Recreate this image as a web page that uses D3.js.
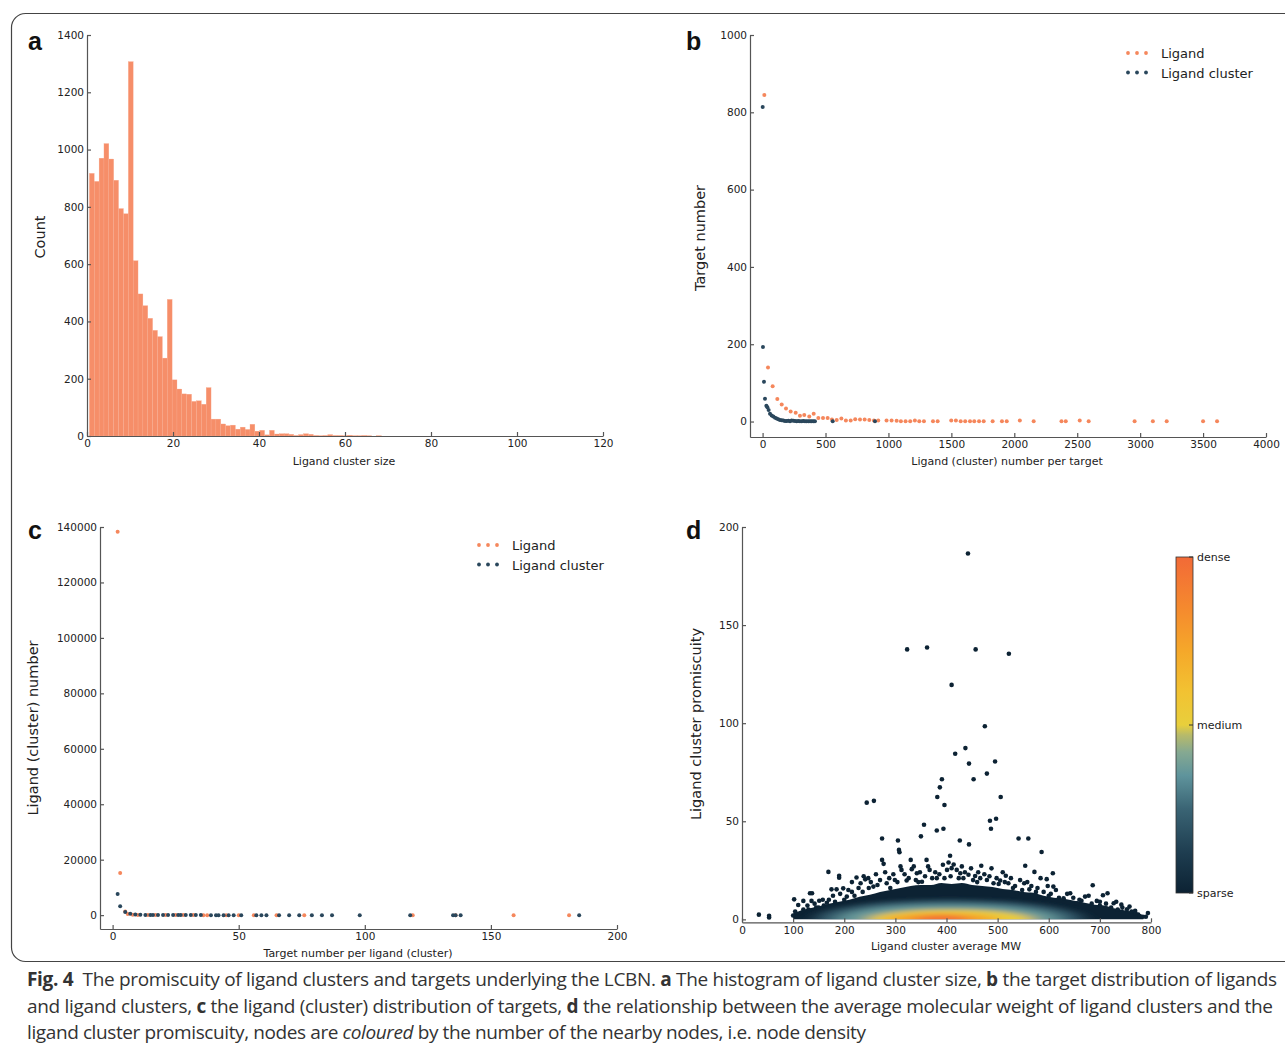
<!DOCTYPE html>
<html>
<head>
<meta charset="utf-8">
<script src="https://cdn.jsdelivr.net/npm/d3@7"></script>
<style>
body { margin: 0; background: #fff; }
svg text { font-family: "DejaVu Sans", sans-serif; fill: #222; }
.axis text { font-family: "DejaVu Sans", sans-serif; font-size: 10.5px; fill: #222; }
.axis path, .axis line { stroke: #555; stroke-width: 1.2; }
.ylab { font-size: 14.5px; }
.xlab { font-size: 11px; }
.leg { font-size: 13px; }
.letter { font-family: "Liberation Sans", Arial, sans-serif !important; font-weight: bold; font-size: 25px; fill: #111 !important; }
.cap { font-family: "Open Sans", "Noto Sans", sans-serif !important; font-size: 19px; fill: #333 !important; }
</style>
</head>
<body>
<svg id="fig" width="1285" height="1050"></svg>
<script>
// ---- panel a : histogram of ligand cluster size
var histCounts = [917, 889, 970, 1021, 967, 893, 794, 776, 1307, 612, 496, 455, 411, 369, 347, 272, 477, 196, 164, 147,
	146, 121, 123, 111, 169, 59, 59, 42, 36, 38, 24, 31, 23, 41, 17, 20, 4, 20, 7, 8,
	8, 6, 2, 5, 8, 6, 2, 1, 2, 5, 2, 2, 1, 3, 1, 1, 2, 1, 0, 1];
var histStart = 0.55, histWidth = 1.132;
var histXTicks = [0, 20, 40, 60, 80, 100, 120];
var histYTicks = [0, 200, 400, 600, 800, 1000, 1200, 1400];

// ---- panel b : targets vs ligand (cluster) number per target
var bLigand = [[14,845],[43,140],[80,91],[117,58],[152,44],[186,34],[223,26],[263,23],[297,15],[331,17],[371,13],[406,20],
	[443,9],[480,9],[517,9],[551,5],[589,4],[626,8],[662,3],[700,3],[736,6],[774,5],[811,5],[848,4],[885,3],[919,3],
	[985,3],[1025,3],[1065,2],[1099,1],[1136,1],[1173,1],[1210,3],[1245,1],[1282,1],[1354,1],[1391,1],[1499,3],[1536,3],
	[1574,1],[1610,1],[1648,1],[1682,1],[1720,1],[1757,1],[1828,1],[1902,1],[1940,1],[2044,3],[2154,1],[2375,1],[2409,1],
	[2520,3],[2591,1],[2956,1],[3101,1],[3211,1],[3500,1],[3611,1]];
var bCluster = [[1,814],[3,193],[11,103],[19,59],[30,41],[38,37],[48,30],[59,20],[72,15.5],[85,13],[99,9.5],[112,7.8],
	[125,6],[138,4.3],[152,3.4],[165,2.6],[178,1.7],[191,1.7],[205,2],[218,1],[231,2.5],[245,2],[258,1.5],[271,1],[284,1.5],
	[297,1],[311,1],[324,1.5],[337,1],[350,1],[364,1],[377,1],[390,1],[403,1],[416,1],[557,1],[893,1]];
var bXTicks = [0, 500, 1000, 1500, 2000, 2500, 3000, 3500, 4000];
var bYTicks = [0, 200, 400, 600, 800, 1000];

// ---- panel c : ligands vs target number per ligand (cluster)
var cLigand = [[2,138300],[3,15200],[5,1350],[6,400],[8,160],[10,90],[14,50],[17,30],[21,20],[25,14],[28,9],[32,6],
	[36,4],[37.5,3],[45,2],[50,2],[56,2],[65,1],[76,1],[119,1],[136,1],[159,1],[181,1]];
var cCluster = [[2,7600],[3,3250],[5,1100],[7,480],[9,200],[11,130],[13,90],[15,60],[16,45],[18,35],[20,25],[22,20],
	[24,15],[26,12],[27,10],[29,8],[31,7],[33,6],[35,5],[39,4],[41,4],[42,3],[44,3],[46,3],[48,2],[51,2],[57,2],[59,1],
	[61,1],[66,1],[70,1],[74,1],[79,1],[83,1],[87,1],[98,1],[118,1],[135,1],[136,1],[138,1],[185,1]];
var cXTicks = [0, 50, 100, 150, 200];
var cYTicks = [0, 20000, 40000, 60000, 80000, 100000, 120000, 140000];

var seriesNames = ["Ligand", "Ligand cluster"];
var seriesColors = ["#f5875c", "#2a475c"];

// ---- panel d : average MW vs promiscuity
var dOutliers = [[442,186.5],[323,137.6],[362,138.6],[457,137.6],[522,135.4],[410,119.5],[475,98.4],[437,87.3],[417,84.4],
	[495,80.5],[444,79.4],[479,74.3],[391,71.4],[453,71.4],[387,67.3],[382,62.4],[506,62.4],[396,58.3],[244,59.5],[258,60.4],
	[497,51.3],[485,50.3],[487,46.2],[356,48.2],[394,46.2],[381,45.3],[350,42.3],[274,41.2],[305,40.2],[426,40.2],[444,38.2],
	[541,41.2],[560,41.2],[586,34.3],[307,35.4],[308,34.2],[407,32.4],[274,30.3],[277,28.3],[330,30.3],[361,30.3],[554,27.3],
	[572,24.2],[468,27.3],[169,24.2],[190,22.2],[190,21.2],[608,23.5],[596,20.5],[516,22.2],[686,17.4],[715,13.3],[706,12.3],
	[742,7.5],[137,13.3],[33,2.4],[53,1.8],[53,1.0],[794,3.2],[784,1.3],[790,1.3]];
var dSpeckles = [[102,10.2],[110,7.3],[120,9.4],[133,13.3],[136,9.4],[151,9.5],[175,15.3],[185,15.3],[198,15.8],[205,11.6],
	[224,21.3],[232,18.4],[241,20.4],[247,21.0],[257,16.7],[265,17.5],[283,18.4],[299,20.1],[312,25.2],[322,19.8],[332,25.6],
	[342,23.5],[352,19.2],[367,25.2],[381,21.0],[393,27.8],[401,25.2],[410,26.1],[420,25.2],[427,23.5],[433,21.0],[443,22.7],
	[456,22.1],[479,20.1],[492,18.4],[505,19.8],[521,18.4],[538,13.3],[552,18.4],[562,15.3],[609,16.7],[629,10.7],[642,13.3],
	[655,8.2],[671,11.6],[694,9.4],[727,8.2],[753,5.1],[769,4.4],[100,2],[104,4],[108,1.5],[115,3],[125,2.5],[130,5],[140,3.5],
	[145,6],[160,7],[170,10],[215,14],[290,16],[345,19],[460,19],[530,16],[575,14],[600,12],[660,10],[700,7],[735,5],
	[770,3],[775,2.5],[778,1.5],
	[215,19],[228,16],[238,22],[252,19],[262,23],[270,20],[280,24],[288,21],[296,23],[304,19],[310,27],[318,23],[326,21],
	[336,27],[340,20],[348,24],[358,22],[364,27],[372,21],[378,24],[386,23],[396,21],[404,29],[408,22],[414,28],[424,21],
	[430,27],[436,24],[448,26],[452,20],[462,24],[466,21],[474,23],[484,22],[488,26],[498,21],[502,18],[510,24],[514,19],
	[526,21],[534,17],[544,20],[548,15],[558,19],[566,17],[578,16],[584,21],[590,14],[598,17],[604,13],[614,15],[620,11],
	[636,13],[648,11],[664,9.5],[678,12],[684,8],[700,9],[712,8],[722,6],[732,9],[744,6],[758,6.5],[762,4],[120,5],[128,7],
	[142,8],[150,6],[158,10],[166,8.5],[178,12],[182,9],[192,13],[200,10],[208,15],[220,12],[236,14],[248,16]];
var dCloudMW = [100, 115, 130, 150, 170, 190, 210, 230, 250, 270, 290, 310, 330, 350, 370, 390, 410, 430, 450, 470, 490, 510,
	530, 550, 570, 590, 610, 630, 650, 670, 690, 710, 730, 750, 770, 785];
var dCloudTop = [3, 4.5, 5.5, 6.5, 8, 9, 10, 11.5, 12.5, 14, 15, 16, 17, 17.5, 17.5, 18.5, 18, 18.5, 17.5, 17, 16.5, 15.5,
	15, 14, 13.5, 12, 11, 10.5, 9.5, 8.5, 7.5, 7, 5.5, 4.5, 3.5, 2];
// density bands (level 0..1), read as flat domes resting on y = 0
var dBandLevel = [0.22, 0.36, 0.52, 0.72, 0.95];
var dBandCenter = [405, 405, 408, 390, 390];
var dBandHalfWidth = [260, 215, 160, 110, 55];
var dBandHeight = [10, 7.5, 5, 3.3, 2.3];
var dXTicks = [0, 100, 200, 300, 400, 500, 600, 700, 800];
var dYTicks = [0, 50, 100, 150, 200];
var densityStops = [0, 0.12, 0.25, 0.35, 0.42, 0.47, 0.5, 0.6, 0.72, 0.85, 1];
var densityColors = ["#0c2233", "#1e3d50", "#3a6474", "#5f949c", "#86a991", "#b7ba6a", "#e8cf3c", "#f2c232", "#f5a82a", "#f5892e", "#f26a37"];
var densityTicks = [[1, "dense"], [0.5, "medium"], [0, "sparse"]];

var svg = d3.select("#fig");
var defs = svg.append("defs");
var density = d3.scaleLinear().domain(densityStops).range(densityColors);

// frame around the figure
svg.append("rect").attr("x", 11.5).attr("y", 13.5).attr("width", 1300).attr("height", 948).attr("rx", 14)
	.attr("fill", "none").attr("stroke", "#444").attr("stroke-width", 1.2);

function axes(x, y, xt, yt) {
	svg.append("g").attr("class", "axis").attr("transform", "translate(0," + y.range()[0] + ")")
		.call(d3.axisBottom(x).tickValues(xt).tickSize(-4).tickSizeOuter(0).tickPadding(4).tickFormat(d3.format("d")));
	svg.append("g").attr("class", "axis").attr("transform", "translate(" + x.range()[0] + ",0)")
		.call(d3.axisLeft(y).tickValues(yt).tickSize(-4).tickSizeOuter(0).tickPadding(3).tickFormat(d3.format("d")));
}
function ylabel(txt, x, y) {
	svg.append("text").attr("class", "ylab").attr("text-anchor", "middle")
		.attr("transform", "translate(" + x + "," + y + ") rotate(-90)").text(txt);
}
function xlabel(txt, x, y) {
	svg.append("text").attr("class", "xlab").attr("text-anchor", "middle").attr("x", x).attr("y", y).text(txt);
}
function legend(x, y) {
	seriesNames.forEach(function (name, i) {
		[0, 9, 18].forEach(function (dx) {
			svg.append("circle").attr("cx", x + dx).attr("cy", y + i * 19.5).attr("r", 1.9).attr("fill", seriesColors[i]);
		});
		svg.append("text").attr("class", "leg").attr("x", x + 33).attr("y", y + i * 19.5 + 5).text(name);
	});
}

// ---------------- a
var xa = d3.scaleLinear().domain([0, 120]).range([87, 603]);
var ya = d3.scaleLinear().domain([0, 1400]).range([436, 35]);
svg.append("g").selectAll("rect").data(histCounts).enter().append("rect")
	.attr("x", function (d, i) { return xa(histStart + i * histWidth); })
	.attr("width", xa(histWidth) - xa(0))
	.attr("y", function (d) { return ya(d); })
	.attr("height", function (d) { return ya(0) - ya(d); })
	.attr("fill", "#f68e69").attr("stroke", "#f9ad91").attr("stroke-width", 0.3);
axes(xa, ya, histXTicks, histYTicks);
ylabel("Count", 45, 237);
xlabel("Ligand cluster size", 344, 465);
svg.append("text").attr("class", "letter").attr("x", 28).attr("y", 50).text("a");

// ---------------- b
var xb = d3.scaleLinear().domain([-100, 4000]).range([750, 1266]);
var yb = d3.scaleLinear().domain([-40, 1000]).range([437, 35]);
[bLigand, bCluster].forEach(function (s, i) {
	svg.append("g").selectAll("circle").data(s).enter().append("circle")
		.attr("cx", function (d) { return xb(d[0]); }).attr("cy", function (d) { return yb(d[1]); })
		.attr("r", 2).attr("fill", seriesColors[i]);
});
axes(xb, yb, bXTicks, bYTicks);
ylabel("Target number", 705, 238);
xlabel("Ligand (cluster) number per target", 1007, 465);
legend(1128, 53);
svg.append("text").attr("class", "letter").attr("x", 686).attr("y", 50).text("b");

// ---------------- c
var xc = d3.scaleLinear().domain([-5, 200]).range([100, 617]);
var yc = d3.scaleLinear().domain([-5000, 140000]).range([929, 527]);
[cLigand, cCluster].forEach(function (s, i) {
	svg.append("g").selectAll("circle").data(s).enter().append("circle")
		.attr("cx", function (d) { return xc(d[0]); }).attr("cy", function (d) { return yc(d[1]); })
		.attr("r", 2).attr("fill", seriesColors[i]);
});
axes(xc, yc, cXTicks, cYTicks);
ylabel("Ligand (cluster) number", 38, 728);
xlabel("Target number per ligand (cluster)", 358, 957);
legend(479, 545);
svg.append("text").attr("class", "letter").attr("x", 28).attr("y", 539).text("c");

// ---------------- d
var xd = d3.scaleLinear().domain([0, 800]).range([742, 1151]);
var yd = d3.scaleLinear().domain([-1.5, 200]).range([922.3, 527]);
var dark = densityColors[0];

var cloud = d3.area().curve(d3.curveMonotoneX)
	.x(function (d, i) { return xd(dCloudMW[i]); })
	.y0(yd(0)).y1(function (d) { return yd(d); });
defs.append("clipPath").attr("id", "cloudClip").append("path").attr("d", cloud(dCloudTop));
var blur = defs.append("filter").attr("id", "soft").attr("x", "-20%").attr("y", "-50%").attr("width", "140%").attr("height", "200%");
blur.append("feGaussianBlur").attr("stdDeviation", "9 2");

svg.append("path").attr("d", cloud(dCloudTop)).attr("fill", dark);
svg.append("g").selectAll("circle").data(dSpeckles).enter().append("circle")
	.attr("cx", function (d) { return xd(d[0]); }).attr("cy", function (d) { return yd(d[1]); })
	.attr("r", 2.3).attr("fill", dark);

var bands = svg.append("g").attr("clip-path", "url(#cloudClip)").append("g").attr("filter", "url(#soft)");
dBandLevel.forEach(function (lv, i) {
	var x0 = xd(dBandCenter[i] - dBandHalfWidth[i]), x1 = xd(dBandCenter[i] + dBandHalfWidth[i]);
	var rx = (x1 - x0) / 2, ry = yd(0) - yd(dBandHeight[i]);
	bands.append("path")
		.attr("d", "M" + x0 + "," + (yd(0) + 6) + " L" + x0 + "," + yd(0) + " A" + rx + "," + ry + " 0 0 1 " + x1 + "," + yd(0) + " L" + x1 + "," + (yd(0) + 6) + "Z")
		.attr("fill", density(lv));
});

svg.append("g").selectAll("circle").data(dOutliers).enter().append("circle")
	.attr("cx", function (d) { return xd(d[0]); }).attr("cy", function (d) { return yd(d[1]); })
	.attr("r", 2.3).attr("fill", dark);
axes(xd, yd, dXTicks, dYTicks);
ylabel("Ligand cluster promiscuity", 701, 724);
xlabel("Ligand cluster average MW", 946, 950);
svg.append("text").attr("class", "letter").attr("x", 686).attr("y", 539).text("d");

// colorbar
var cb = d3.scaleLinear().domain([0, 1]).range([893, 557]);
var grad = defs.append("linearGradient").attr("id", "cbGrad").attr("x1", 0).attr("y1", 1).attr("x2", 0).attr("y2", 0);
densityStops.forEach(function (s, i) {
	grad.append("stop").attr("offset", s).attr("stop-color", densityColors[i]);
});
svg.append("rect").attr("x", 1176).attr("y", cb(1)).attr("width", 17).attr("height", cb(0) - cb(1))
	.attr("fill", "url(#cbGrad)").attr("stroke", "#333").attr("stroke-width", 0.8);
densityTicks.forEach(function (t) {
	svg.append("line").attr("x1", 1189).attr("x2", 1193).attr("y1", cb(t[0])).attr("y2", cb(t[0])).attr("stroke", "#333");
	svg.append("text").attr("class", "xlab").attr("x", 1197).attr("y", cb(t[0]) + 4).text(t[1]);
});

// ---------------- caption
var capLines = [
	[["Fig. 4", "b"], ["  The promiscuity of ligand clusters and targets underlying the LCBN. ", ""], ["a", "b"], [" The histogram of ligand cluster size, ", ""], ["b", "b"], [" the target distribution of ligands", ""]],
	[["and ligand clusters, ", ""], ["c", "b"], [" the ligand (cluster) distribution of targets, ", ""], ["d", "b"], [" the relationship between the average molecular weight of ligand clusters and the", ""]],
	[["ligand cluster promiscuity, nodes are ", ""], ["coloured", "i"], [" by the number of the nearby nodes, i.e. node density", ""]]
];
var capWidths = [1250, 1246, 839];
capLines.forEach(function (line, k) {
	var t = svg.append("text").attr("class", "cap").attr("x", 27).attr("y", 986 + k * 26.5)
		.attr("textLength", capWidths[k]).attr("lengthAdjust", "spacing").attr("xml:space", "preserve");
	line.forEach(function (p) {
		t.append("tspan").text(p[0])
			.attr("font-weight", p[1] == "b" ? "bold" : null)
			.attr("font-style", p[1] == "i" ? "italic" : null);
	});
});
</script>
</body>
</html>
